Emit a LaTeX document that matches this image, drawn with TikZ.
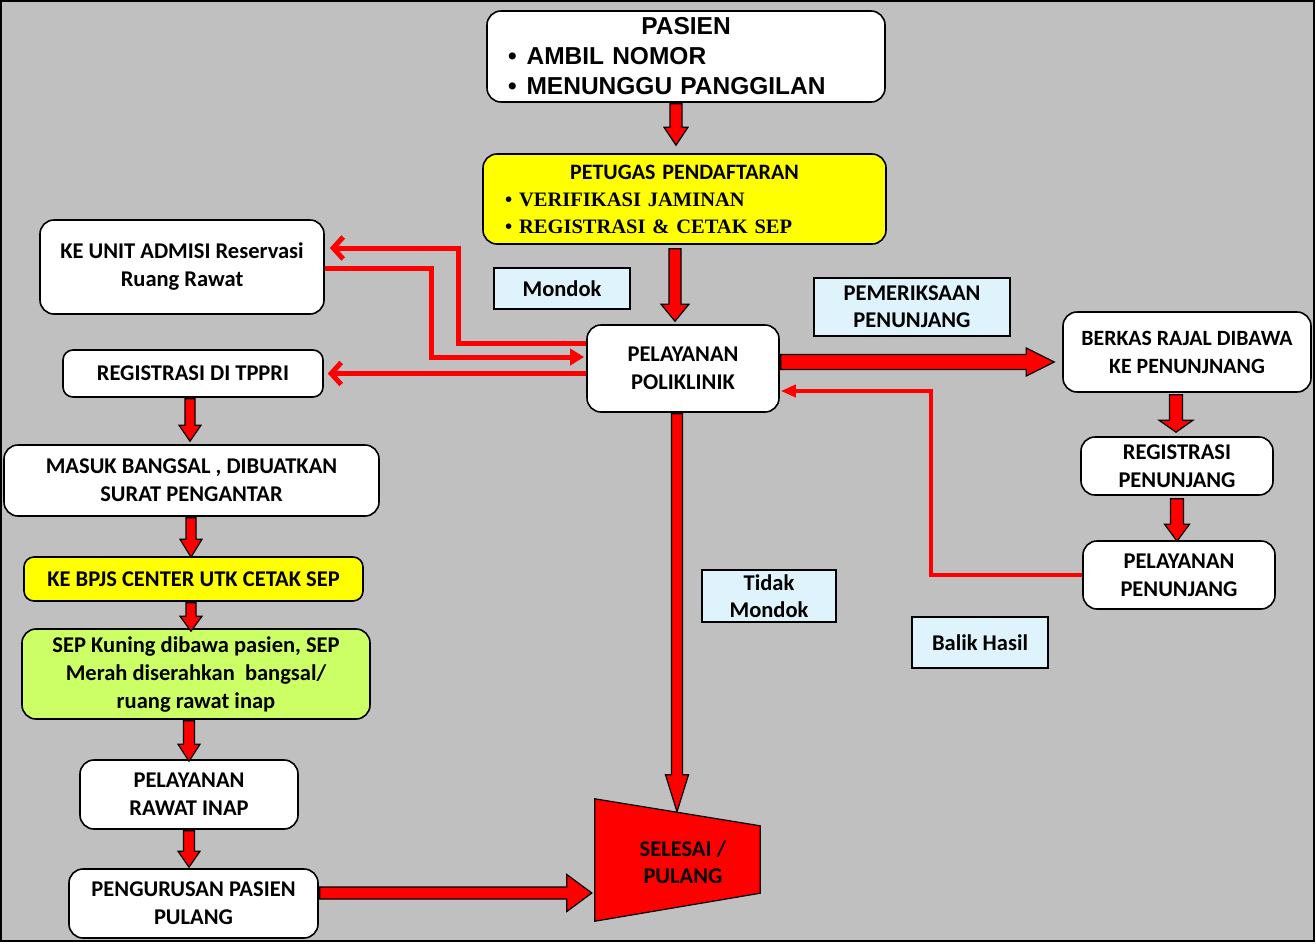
\documentclass[tikz,border=0pt]{standalone}
\usepackage{fontspec}
\setmainfont{Carlito}
\newfontfamily\arialf{Liberation Sans}
\newfontfamily\timesf{Liberation Serif}
\usetikzlibrary{arrows.meta,calc}
\definecolor{bggray}{RGB}{192,192,192}
\definecolor{boxyellow}{RGB}{255,255,0}
\definecolor{boxgreen}{RGB}{204,255,102}
\definecolor{lblue}{RGB}{222,243,252}
\newcommand{\vblk}[5]{\draw[blk] let \p1=(#1), \p2=(#2) in
  (\x1-#3,\y1) -- (\x1-#3,\y2+#5) -- (\x1-#4,\y2+#5) -- (\x1,\y2) --
  (\x1+#4,\y2+#5) -- (\x1+#3,\y2+#5) -- (\x1+#3,\y1) -- cycle;}
\newcommand{\hblk}[5]{\draw[blk] let \p1=(#1), \p2=(#2) in
  (\x1,\y1+#3) -- (\x2-#5,\y1+#3) -- (\x2-#5,\y1+#4) -- (\x2,\y1) --
  (\x2-#5,\y1-#4) -- (\x2-#5,\y1-#3) -- (\x1,\y1-#3) -- cycle;}
\begin{document}
\begin{tikzpicture}[x=1pt,y=-1pt,
  wbox/.style={draw=black, line width=1.6pt, rounded corners=14pt, fill=white,
    align=center, inner sep=0pt,
    font={\bfseries\fontsize{22.5}{28}\selectfont}},
  lbl/.style={draw=black, line width=1.6pt, fill=lblue, align=center, inner sep=0pt,
    font={\bfseries\fontsize{22.5}{27}\selectfont}},
  blk/.style={draw=black, line width=1.2pt, fill=red, line join=miter},
  rl/.style={draw=red, line width=5pt},
  barb/.style={-{Straight Barb[length=10pt,width=22pt]}},
  tri/.style={-{Triangle[length=14pt,width=16pt]}}
]
\useasboundingbox (0,0) rectangle (1316,943);
\fill[white] (0,0) rectangle (1316,943);
\fill[bggray] (0,0) rectangle (1314,941);
\draw[line width=1.5pt] (0.75,0.75) rectangle (1314,941);

% top column
\node[wbox, minimum width=398pt, minimum height=91pt, text width=356pt, inner xsep=21pt,
  align=left, font={\arialf\bfseries\fontsize{24.5}{30}\selectfont}] (pasien) at (686,56.5)
  {\makebox[\linewidth]{PASIEN}\\ \textbullet\hspace{10pt}AMBIL NOMOR\\ \textbullet\hspace{10pt}MENUNGGU PANGGILAN};
\node[wbox, fill=boxyellow, minimum width=403pt, minimum height=90pt, text width=359pt, inner xsep=22pt,
  align=left, font={\bfseries\fontsize{20.5}{27}\selectfont}] (petugas) at (684.5,199)
  {\makebox[\linewidth]{\fontsize{22}{27}\selectfont PETUGAS PENDAFTARAN}\\
   {\timesf\textbullet\hspace{7pt}VERIFIKASI JAMINAN}\\
   {\timesf\textbullet\hspace{7pt}REGISTRASI \& CETAK SEP}};
\node[wbox, minimum width=192pt, minimum height=87pt] (poli) at (683,368.5) {PELAYANAN\\POLIKLINIK};

% labels
\node[lbl, minimum width=136pt, minimum height=41pt] (mondok) at (562,288.5) {Mondok};
\node[lbl, minimum width=196pt, minimum height=58pt] (periksa) at (912,307) {PEMERIKSAAN\\PENUNJANG};
\node[lbl, minimum width=134pt, minimum height=52pt] (tidak) at (769,596) {Tidak\\Mondok};
\node[lbl, minimum width=136pt, minimum height=51pt] (balik) at (980,642.5) {Balik Hasil};

% left column
\node[wbox, minimum width=284pt, minimum height=94pt] (keunit) at (182,267) {KE UNIT ADMISI Reservasi\\Ruang Rawat};
\node[wbox, minimum width=260pt, minimum height=47pt, rounded corners=10pt] (tppri) at (193,373.5) {REGISTRASI DI TPPRI};
\node[wbox, minimum width=375pt, minimum height=71pt] (masuk) at (191.5,480.5) {MASUK BANGSAL , DIBUATKAN\\SURAT PENGANTAR};
\node[wbox, fill=boxyellow, minimum width=339pt, minimum height=44pt, rounded corners=10pt] (bpjs) at (193.5,579) {KE BPJS CENTER UTK CETAK SEP};
\node[wbox, fill=boxgreen, minimum width=348pt, minimum height=90pt] (sep) at (196,674)
  {SEP Kuning dibawa pasien, SEP\\Merah diserahkan\ \ bangsal/\\ruang rawat inap};
\node[wbox, minimum width=218pt, minimum height=69pt] (rawat) at (189,794.5) {PELAYANAN\\RAWAT INAP};
\node[wbox, minimum width=249pt, minimum height=69pt] (pengurusan) at (193.5,903.5) {PENGURUSAN PASIEN\\PULANG};

% right column
\node[wbox, minimum width=248pt, minimum height=80pt, font={\bfseries\fontsize{21.8}{28}\selectfont}] (berkas) at (1187,352) {BERKAS RAJAL DIBAWA\\KE PENUNJNANG};
\node[wbox, minimum width=192pt, minimum height=58pt] (regpen) at (1177,466) {REGISTRASI\\PENUNJANG};
\node[wbox, minimum width=192pt, minimum height=68pt] (pelpen) at (1179,575) {PELAYANAN\\PENUNJANG};

% end shape
\node[minimum width=165pt, minimum height=122pt, inner sep=0pt] (selesai) at (677.5,860) {};
\draw[draw=black, line width=1.2pt, fill=red] (selesai.north west) -- ($(selesai.north east)+(0,27)$)
  -- ($(selesai.south east)+(0,-28)$) -- (selesai.south west) -- cycle;
\node[align=center, font={\bfseries\fontsize{22.5}{27}\selectfont}] at ($(selesai.center)+(5.5,2)$) {SELESAI /\\PULANG};

% block arrows
\vblk{$(pasien.south)+(-10,1)$}{$(petugas.north)+(0,-8)$}{6pt}{12pt}{18pt}
\vblk{$(petugas.south)+(-9.5,4)$}{$(poli.north)+(0,-3)$}{6pt}{14pt}{17pt}
\vblk{$(poli.south)+(-6,1)$}{$(selesai.north)+(0,13)$}{5.5pt}{11.5pt}{37pt}
\hblk{$(poli.east)+(1,-6.5)$}{$(berkas.west)+(-8,0)$}{7.5pt}{14pt}{28pt}
\vblk{$(berkas.south)+(-11,2)$}{$(regpen.north)+(0,-4)$}{6.5pt}{17pt}{12pt}
\vblk{$(regpen.south)+(0,3)$}{$(pelpen.north)+(0,1)$}{6.5pt}{12.5pt}{17pt}
\vblk{$(tppri.south)+(-3,1)$}{$(masuk.north)+(0,-3)$}{5pt}{11pt}{16pt}
\vblk{$(masuk.south)+(-0.5,1)$}{$(bpjs.north)+(0,1)$}{5pt}{11pt}{18pt}
\vblk{$(bpjs.south)+(-2.5,1)$}{$(sep.north)+(0,3)$}{5pt}{11pt}{15pt}
\vblk{$(sep.south)+(-7,1)$}{$(rawat.north)+(0,2)$}{5.5pt}{11pt}{17pt}
\vblk{$(rawat.south)+(0,1)$}{$(pengurusan.north)+(0,-1)$}{5.5pt}{11pt}{16pt}
\hblk{$(pengurusan.east)+(1,-10.5)$}{$(selesai.west)+(-3,0)$}{6pt}{18.5pt}{25pt}

% thin red connectors
\coordinate (cA) at (458,248);
\coordinate (cB1) at (431,268);
\coordinate (cB2) at (431,357);
\coordinate (cD) at (931,391);
\draw[rl, barb, shorten >=5pt] ($(poli.west)+(0,-25.5)$) -| (cA) -- (keunit.east |- cA);
\draw[rl, tri, shorten >=2pt] (keunit.east |- cB1) -| (cB2) -- (poli.west |- cB2);
\draw[rl, barb, shorten >=4pt] (poli.west |- tppri.east) -- (tppri.east);
\draw[rl, line width=4pt, -{Triangle[length=15pt,width=12pt]}, shorten >=1pt] (pelpen.west) -| (cD) -- (poli.east |- cD);
\end{tikzpicture}
\end{document}
